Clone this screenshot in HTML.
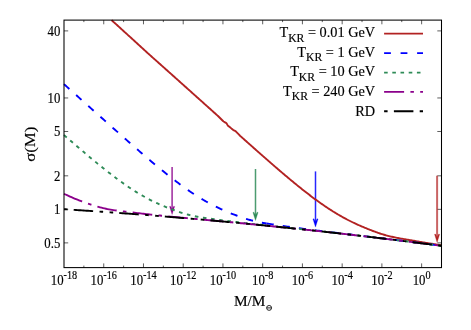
<!DOCTYPE html>
<html><head><meta charset="utf-8"><style>html,body{margin:0;padding:0;background:#fff}body{width:471px;height:330px;overflow:hidden}</style></head><body><svg width="471" height="330" viewBox="0 0 471 330" style="display:block;will-change:transform;transform:translateZ(0)">
<rect width="471" height="330" fill="#fff"/>
<path d="M83.87,267.60 v-2.00 M83.87,20.10 v2.00 M103.74,267.60 v-4.20 M103.74,20.10 v4.20 M123.61,267.60 v-2.00 M123.61,20.10 v2.00 M143.47,267.60 v-4.20 M143.47,20.10 v4.20 M163.34,267.60 v-2.00 M163.34,20.10 v2.00 M183.21,267.60 v-4.20 M183.21,20.10 v4.20 M203.08,267.60 v-2.00 M203.08,20.10 v2.00 M222.95,267.60 v-4.20 M222.95,20.10 v4.20 M242.82,267.60 v-2.00 M242.82,20.10 v2.00 M262.68,267.60 v-4.20 M262.68,20.10 v4.20 M282.55,267.60 v-2.00 M282.55,20.10 v2.00 M302.42,267.60 v-4.20 M302.42,20.10 v4.20 M322.29,267.60 v-2.00 M322.29,20.10 v2.00 M342.16,267.60 v-4.20 M342.16,20.10 v4.20 M362.03,267.60 v-2.00 M362.03,20.10 v2.00 M381.89,267.60 v-4.20 M381.89,20.10 v4.20 M401.76,267.60 v-2.00 M401.76,20.10 v2.00 M421.63,267.60 v-4.20 M421.63,20.10 v4.20 M64.00,30.90 h4.2 M441.50,30.90 h-4.2 M64.00,97.96 h4.2 M441.50,97.96 h-4.2 M64.00,131.49 h4.2 M441.50,131.49 h-4.2 M64.00,175.82 h4.2 M441.50,175.82 h-4.2 M64.00,209.35 h4.2 M441.50,209.35 h-4.2 M64.00,242.89 h4.2 M441.50,242.89 h-4.2" stroke="#1a1a1a" stroke-width="0.7" fill="none"/>
<path d="M437.10,175.70 V238.20" stroke="#b22222" stroke-width="2.00" fill="none" opacity="0.70"/><path d="M437.10,242.40 L434.55,234.30 L435.50,234.10 L437.10,237.20 L438.70,234.10 L439.65,234.30 Z" fill="#b22222" stroke="#b22222" stroke-width="0.3"/>
<path d="M315.50,171.40 V222.90" stroke="#0000ff" stroke-width="1.50" fill="none" opacity="0.85"/><path d="M315.50,227.10 L312.95,219.00 L313.90,218.80 L315.50,221.90 L317.10,218.80 L318.05,219.00 Z" fill="#0000ff" stroke="#0000ff" stroke-width="0.3"/>
<path d="M255.50,169.00 V216.30" stroke="#2e8b57" stroke-width="1.50" fill="none" opacity="0.85"/><path d="M255.50,220.50 L252.95,212.40 L253.90,212.20 L255.50,215.30 L257.10,212.20 L258.05,212.40 Z" fill="#2e8b57" stroke="#2e8b57" stroke-width="0.3"/>
<path d="M172.10,167.00 V210.30" stroke="#8b008b" stroke-width="1.50" fill="none" opacity="0.85"/><path d="M172.10,214.50 L169.55,206.40 L170.50,206.20 L172.10,209.30 L173.70,206.20 L174.65,206.40 Z" fill="#8b008b" stroke="#8b008b" stroke-width="0.3"/>
<g fill="none" stroke-width="1.90" stroke-linejoin="round">
<path d="M111.54,20.10 112.00,20.52 113.00,21.43 114.00,22.34 115.00,23.25 116.00,24.16 117.00,25.07 118.00,25.98 119.00,26.89 120.00,27.80 121.00,28.71 122.00,29.62 123.00,30.53 124.00,31.44 125.00,32.35 126.00,33.26 127.00,34.17 128.00,35.08 129.00,35.99 130.00,36.90 131.00,37.82 132.00,38.73 133.00,39.64 134.00,40.55 135.00,41.47 136.00,42.38 137.00,43.29 138.00,44.20 139.00,45.12 140.00,46.03 141.00,46.94 142.00,47.86 143.00,48.77 144.00,49.69 145.00,50.60 146.00,51.51 147.00,52.43 148.00,53.34 149.00,54.26 150.00,55.17 151.00,56.06 152.00,56.95 153.00,57.84 154.00,58.74 155.00,59.63 156.00,60.52 157.00,61.41 158.00,62.30 159.00,63.19 160.00,64.08 161.00,64.97 162.00,65.87 163.00,66.76 164.00,67.65 165.00,68.54 166.00,69.44 167.00,70.33 168.00,71.22 169.00,72.11 170.00,73.01 171.00,73.90 172.00,74.79 173.00,75.69 174.00,76.58 175.00,77.48 176.00,78.37 177.00,79.26 178.00,80.16 179.00,81.05 180.00,81.95 181.00,82.84 182.00,83.74 183.00,84.63 184.00,85.53 185.00,86.42 186.00,87.32 187.00,88.21 188.00,89.11 189.00,90.00 190.00,90.90 191.00,91.79 192.00,92.69 193.00,93.59 194.00,94.48 195.00,95.38 196.00,96.28 197.00,97.17 198.00,98.07 199.00,98.96 200.00,99.86 201.00,100.76 202.00,101.65 203.00,102.55 204.00,103.45 205.00,104.35 206.00,105.24 207.00,106.14 208.00,107.04 209.00,107.93 210.00,108.83 211.00,109.73 212.00,110.62 213.00,111.52 214.00,112.42 215.00,113.32 216.00,114.21 217.00,115.11 218.00,116.01 219.00,116.99 220.00,117.98 221.00,118.97 222.00,119.96 223.00,120.95 223.50,121.44 224.00,121.74 225.00,122.33 226.00,122.93 226.50,123.23 227.00,124.14 227.70,125.40 228.00,125.65 229.00,126.48 230.00,127.30 231.00,128.13 232.00,128.95 233.00,129.77 233.30,130.02 234.00,130.35 235.00,130.81 235.40,131.00 236.00,131.61 237.00,132.64 238.00,133.66 239.00,134.69 240.00,135.71 241.00,136.61 242.00,137.50 243.00,138.39 244.00,139.28 245.00,140.18 246.00,141.07 247.00,141.96 248.00,142.85 249.00,143.74 250.00,144.63 251.00,145.52 252.00,146.41 253.00,147.29 254.00,148.18 255.00,149.07 256.00,149.95 257.00,150.84 258.00,151.72 259.00,152.61 260.00,153.49 261.00,154.37 262.00,155.25 263.00,156.13 264.00,157.01 265.00,157.89 266.00,158.77 267.00,159.64 268.00,160.52 269.00,161.39 270.00,162.26 271.00,163.13 272.00,164.00 273.00,164.87 274.00,165.74 275.00,166.60 276.00,167.47 277.00,168.33 278.00,169.19 279.00,170.05 280.00,170.91 281.00,171.76 282.00,172.61 283.00,173.46 284.00,174.31 285.00,175.16 286.00,176.01 287.00,176.85 288.00,177.69 289.00,178.53 290.00,179.36 291.00,180.19 292.00,181.02 293.00,181.85 294.00,182.67 295.00,183.49 296.00,184.31 297.00,185.13 298.00,185.94 299.00,186.75 300.00,187.55 301.00,188.35 302.00,189.15 303.00,189.94 304.00,190.73 305.00,191.52 306.00,192.30 307.00,193.07 308.00,193.85 309.00,194.62 310.00,195.38 311.00,196.14 312.00,196.89 313.00,197.64 314.00,198.39 315.00,199.13 316.00,199.86 317.00,200.59 318.00,201.31 319.00,202.03 320.00,202.74 321.00,203.45 322.00,204.15 323.00,204.84 324.00,205.53 325.00,206.21 326.00,206.89 327.00,207.55 328.00,208.22 329.00,208.87 330.00,209.52 331.00,210.16 332.00,210.80 333.00,211.43 334.00,212.05 335.00,212.66 336.00,213.27 337.00,213.87 338.00,214.46 339.00,215.05 340.00,215.63 341.00,216.20 342.00,216.76 343.00,217.32 344.00,217.87 345.00,218.41 346.00,218.94 347.00,219.47 348.00,219.99 349.00,220.50 350.00,221.00 351.00,221.50 352.00,221.99 353.00,222.48 354.00,222.95 355.00,223.43 356.00,223.89 357.00,224.35 358.00,224.80 359.00,225.25 360.00,225.69 361.00,226.13 362.00,226.56 363.00,226.98 364.00,227.40 365.00,227.82 366.00,228.23 367.00,228.64 368.00,229.04 369.00,229.44 370.00,229.84 371.00,230.22 372.00,230.61 373.00,230.99 374.00,231.36 375.00,231.73 376.00,232.09 377.00,232.45 378.00,232.80 379.00,233.14 380.00,233.48 381.00,233.80 382.00,234.12 383.00,234.43 384.00,234.73 385.00,235.02 386.00,235.30 387.00,235.58 388.00,235.84 389.00,236.09 390.00,236.34 391.00,236.58 392.00,236.80 393.00,237.02 394.00,237.24 395.00,237.44 396.00,237.64 397.00,237.84 398.00,238.03 399.00,238.22 400.00,238.40 401.00,238.58 402.00,238.75 403.00,238.93 404.00,239.10 405.00,239.27 406.00,239.45 407.00,239.62 408.00,239.79 409.00,239.96 410.00,240.13 411.00,240.30 412.00,240.47 413.00,240.64 414.00,240.81 415.00,240.98 416.00,241.15 417.00,241.32 418.00,241.49 419.00,241.66 420.00,241.83 421.00,242.00 422.00,242.16 423.00,242.33 424.00,242.50 425.00,242.66 426.00,242.83 427.00,242.99 428.00,243.16 429.00,243.32 430.00,243.48 431.00,243.64 432.00,243.80 433.00,243.96 434.00,244.12 435.00,244.27 436.00,244.43 437.00,244.59 438.00,244.74 439.00,244.90 440.00,245.05 441.00,245.20 441.50,245.28" stroke="#b22222"/>
<path d="M64.00,84.15 65.50,85.49 67.00,86.84 68.50,88.18 70.00,89.52 71.50,90.87 73.00,92.21 74.50,93.56 76.00,94.90 77.50,96.24 79.00,97.59 80.50,98.93 82.00,100.28 83.50,101.62 85.00,102.96 86.50,104.31 88.00,105.65 89.50,106.99 91.00,108.34 92.50,109.68 94.00,111.02 95.50,112.37 97.00,113.71 98.50,115.05 100.00,116.39 101.50,117.73 103.00,119.07 104.50,120.41 106.00,121.75 107.50,123.09 109.00,124.43 110.50,125.76 112.00,127.10 113.50,128.43 115.00,129.77 116.50,131.10 118.00,132.43 119.50,133.76 121.00,135.09 122.50,136.41 124.00,137.74 125.50,139.06 127.00,140.38 128.50,141.70 130.00,143.02 131.50,144.34 133.00,145.65 134.50,146.96 136.00,148.27 137.50,149.57 139.00,150.87 140.50,152.17 142.00,153.46 143.50,154.75 145.00,156.04 146.50,157.32 148.00,158.60 149.50,159.88 151.00,161.15 152.50,162.41 154.00,163.67 155.50,164.92 157.00,166.17 158.50,167.41 160.00,168.64 161.50,169.87 163.00,171.09 164.50,172.30 166.00,173.51 167.50,174.71 169.00,175.89 170.50,177.07 172.00,178.24 173.50,179.40 175.00,180.55 176.50,181.69 178.00,182.82 179.50,183.94 181.00,185.05 182.50,186.14 184.00,187.22 185.50,188.29 187.00,189.35 188.50,190.39 190.00,191.42 191.50,192.43 193.00,193.43 194.50,194.42 196.00,195.39 197.50,196.34 199.00,197.28 200.50,198.20 202.00,199.10 203.50,199.99 205.00,200.86 206.50,201.71 208.00,202.55 209.50,203.37 211.00,204.17 212.50,204.96 214.00,205.73 215.50,206.48 217.00,207.21 218.50,207.93 220.00,208.64 221.50,209.32 223.00,210.00 224.50,210.66 226.00,211.30 227.50,211.93 229.00,212.55 230.50,213.16 232.00,213.76 233.50,214.35 235.00,214.93 236.50,215.49 238.00,216.05 239.50,216.59 241.00,217.12 242.50,217.64 244.00,218.15 245.50,218.63 247.00,219.10 248.50,219.56 250.00,219.99 251.50,220.40 253.00,220.79 254.50,221.15 256.00,221.50 257.50,221.83 259.00,222.13 260.50,222.43 262.00,222.70 263.50,222.96 265.00,223.21 266.50,223.46 266.60,223.47" stroke="#0000ff" stroke-dasharray="7.2 9.1"/>
<path d="M266.60,223.47 268.00,223.69 269.50,223.92 271.00,224.15 272.50,224.37 274.00,224.60 275.50,224.82 277.00,225.04 278.50,225.26 280.00,225.48 281.50,225.70 283.00,225.92 284.50,226.15 286.00,226.36 287.50,226.58 289.00,226.80 290.50,227.01 292.00,227.23 293.50,227.44 295.00,227.65 296.50,227.86 298.00,228.06 299.50,228.27 301.00,228.47 302.50,228.67 304.00,228.87 305.50,229.06 307.00,229.26 308.50,229.45 310.00,229.64 311.50,229.84 313.00,230.02 314.50,230.21 316.00,230.40 317.50,230.59 319.00,230.77 320.50,230.96 322.00,231.14 323.50,231.33 325.00,231.51 326.50,231.69 328.00,231.87 329.50,232.05 331.00,232.23 332.50,232.41 334.00,232.59 335.50,232.77 337.00,232.95 338.50,233.13 340.00,233.31 341.50,233.49 343.00,233.67 344.50,233.85 346.00,234.03 347.50,234.21 349.00,234.38 350.50,234.56 352.00,234.74 353.50,234.92 355.00,235.10 356.50,235.28 358.00,235.46 359.50,235.63 361.00,235.81 362.50,235.99 364.00,236.17 365.50,236.35 367.00,236.53 368.50,236.71 370.00,236.89 371.50,237.07 373.00,237.25 374.50,237.43 376.00,237.61 377.50,237.80 379.00,237.98 380.50,238.16 382.00,238.34 383.50,238.52 385.00,238.71 386.50,238.89 388.00,239.07 389.50,239.26 391.00,239.44 392.50,239.63 394.00,239.81 395.50,240.00 397.00,240.18 398.50,240.37 400.00,240.55 401.50,240.74 403.00,240.93 404.50,241.11 406.00,241.30 407.50,241.49 409.00,241.68 410.50,241.87 412.00,242.06 413.50,242.24 415.00,242.43 416.50,242.62 418.00,242.81 419.50,243.01 421.00,243.20 422.50,243.39 424.00,243.58 425.50,243.77 427.00,243.97 428.50,244.16 430.00,244.35 431.50,244.55 433.00,244.74 434.50,244.93 436.00,245.13 437.50,245.32 439.00,245.52 440.50,245.72 441.50,245.85" stroke="#0000ff" stroke-dasharray="7.2 9.1"/>
<path d="M64.00,135.06 65.50,136.37 67.00,137.67 68.50,138.97 70.00,140.27 71.50,141.57 73.00,142.87 74.50,144.16 76.00,145.45 77.50,146.74 79.00,148.02 80.50,149.30 82.00,150.58 83.50,151.85 85.00,153.13 86.50,154.39 88.00,155.65 89.50,156.91 91.00,158.16 92.50,159.41 94.00,160.65 95.50,161.89 97.00,163.12 98.50,164.35 100.00,165.56 101.50,166.77 103.00,167.98 104.50,169.17 106.00,170.36 107.50,171.54 109.00,172.71 110.50,173.87 112.00,175.03 113.50,176.17 115.00,177.30 116.50,178.42 118.00,179.53 119.50,180.63 121.00,181.72 122.50,182.79 124.00,183.85 125.50,184.90 127.00,185.93 128.50,186.95 130.00,187.96 131.50,188.95 133.00,189.92 134.50,190.88 136.00,191.82 137.50,192.75 139.00,193.66 140.50,194.55 142.00,195.43 143.50,196.29 145.00,197.13 146.50,197.95 148.00,198.76 149.50,199.54 151.00,200.31 152.50,201.07 154.00,201.80 155.50,202.52 157.00,203.22 158.50,203.90 160.00,204.57 161.50,205.22 163.00,205.86 164.50,206.49 166.00,207.10 167.50,207.69 169.00,208.28 170.50,208.85 172.00,209.42 173.50,209.97 175.00,210.51 176.50,211.04 178.00,211.56 179.50,212.07 181.00,212.56 182.50,213.04 184.00,213.50 185.50,213.94 187.00,214.37 188.50,214.77 190.00,215.16 191.50,215.52 193.00,215.87 194.50,216.19 196.00,216.49 197.50,216.77 199.00,217.04 200.50,217.29 202.00,217.52 203.50,217.75 205.00,217.96 206.50,218.17 208.00,218.38 209.50,218.58 211.00,218.78 212.50,218.97 214.00,219.17 215.50,219.37 217.00,219.56 218.50,219.76 220.00,219.96 221.50,220.15 223.00,220.35 224.50,220.54 226.00,220.74 227.50,220.93 229.00,221.12 230.50,221.31 232.00,221.50 233.50,221.69 235.00,221.88 236.50,222.06 238.00,222.24 239.50,222.42 241.00,222.60 242.50,222.78 244.00,222.95 245.50,223.13 247.00,223.30 248.50,223.47 250.00,223.64 251.50,223.81 253.00,223.98 254.50,224.15 256.00,224.31 257.50,224.48 259.00,224.64 260.50,224.81 262.00,224.97 263.50,225.14 265.00,225.30 266.50,225.46 266.60,225.47" stroke="#2e8b57" stroke-dasharray="3.6 4.6"/>
<path d="M266.60,225.47 268.00,225.62 269.50,225.79 271.00,225.95 272.50,226.11 274.00,226.27 275.50,226.43 277.00,226.59 278.50,226.75 280.00,226.91 281.50,227.07 283.00,227.24 284.50,227.40 286.00,227.56 287.50,227.72 289.00,227.88 290.50,228.04 292.00,228.20 293.50,228.36 295.00,228.52 296.50,228.68 298.00,228.84 299.50,229.01 301.00,229.17 302.50,229.33 304.00,229.49 305.50,229.65 307.00,229.82 308.50,229.98 310.00,230.14 311.50,230.31 313.00,230.47 314.50,230.63 316.00,230.80 317.50,230.96 319.00,231.13 320.50,231.29 322.00,231.46 323.50,231.63 325.00,231.79 326.50,231.96 328.00,232.12 329.50,232.29 331.00,232.46 332.50,232.63 334.00,232.80 335.50,232.96 337.00,233.13 338.50,233.30 340.00,233.47 341.50,233.64 343.00,233.81 344.50,233.98 346.00,234.15 347.50,234.33 349.00,234.50 350.50,234.67 352.00,234.84 353.50,235.02 355.00,235.19 356.50,235.36 358.00,235.54 359.50,235.71 361.00,235.89 362.50,236.06 364.00,236.24 365.50,236.41 367.00,236.59 368.50,236.77 370.00,236.94 371.50,237.12 373.00,237.30 374.50,237.48 376.00,237.66 377.50,237.83 379.00,238.01 380.50,238.19 382.00,238.37 383.50,238.56 385.00,238.74 386.50,238.92 388.00,239.10 389.50,239.28 391.00,239.47 392.50,239.65 394.00,239.83 395.50,240.02 397.00,240.20 398.50,240.38 400.00,240.57 401.50,240.76 403.00,240.94 404.50,241.13 406.00,241.31 407.50,241.50 409.00,241.69 410.50,241.88 412.00,242.07 413.50,242.25 415.00,242.44 416.50,242.63 418.00,242.82 419.50,243.01 421.00,243.20 422.50,243.40 424.00,243.59 425.50,243.78 427.00,243.97 428.50,244.16 430.00,244.36 431.50,244.55 433.00,244.74 434.50,244.94 436.00,245.13 437.50,245.33 439.00,245.52 440.50,245.72 441.50,245.85" stroke="#2e8b57" stroke-dasharray="3.6 4.6"/>
<path d="M64.00,193.79 65.50,194.52 67.00,195.22 68.50,195.91 70.00,196.58 71.50,197.24 73.00,197.88 74.50,198.51 76.00,199.12 77.50,199.72 79.00,200.31 80.50,200.88 82.00,201.44 83.50,202.00 85.00,202.54 86.50,203.07 88.00,203.59 89.50,204.10 91.00,204.60 92.50,205.09 94.00,205.57 95.50,206.03 97.00,206.47 98.50,206.90 100.00,207.31 101.50,207.70 103.00,208.07 104.50,208.42 106.00,208.75 107.50,209.06 109.00,209.34 110.50,209.61 112.00,209.86 113.50,210.10 115.00,210.32 116.50,210.53 118.00,210.73 119.50,210.92 121.00,211.11 122.50,211.29 124.00,211.47 125.50,211.65 127.00,211.83 128.50,212.01 130.00,212.19 131.50,212.37 133.00,212.55 134.50,212.73 136.00,212.90 137.50,213.08 139.00,213.26 140.50,213.43 142.00,213.61 143.50,213.78 145.00,213.95 146.50,214.12 148.00,214.28 149.50,214.45 151.00,214.61 152.50,214.77 154.00,214.93 155.50,215.09 157.00,215.24 158.50,215.40 160.00,215.55 161.50,215.70 163.00,215.85 164.50,216.00 166.00,216.15 167.50,216.30 169.00,216.44 170.50,216.59 172.00,216.73 173.50,216.88 175.00,217.02 176.50,217.16 178.00,217.30 179.50,217.44 181.00,217.58 182.50,217.72 184.00,217.86 185.50,218.00 187.00,218.14 188.50,218.28 190.00,218.42 191.50,218.56 193.00,218.70 194.50,218.84 196.00,218.98 197.50,219.11 199.00,219.25 200.50,219.39 202.00,219.53 203.50,219.67 205.00,219.81 206.50,219.94 208.00,220.08 209.50,220.22 211.00,220.36 212.50,220.50 214.00,220.64 215.50,220.78 217.00,220.92 218.50,221.06 220.00,221.20 221.50,221.34 223.00,221.48 224.50,221.62 226.00,221.76 227.50,221.90 229.00,222.04 230.50,222.18 232.00,222.32 233.50,222.47 235.00,222.61 236.50,222.75 238.00,222.89 239.50,223.04 241.00,223.18 242.50,223.32 244.00,223.47 245.50,223.61 247.00,223.76 248.50,223.90 250.00,224.05 251.50,224.20 253.00,224.34 254.50,224.49 256.00,224.64 257.50,224.78 259.00,224.93 260.50,225.08 262.00,225.23 263.50,225.38 265.00,225.53 266.50,225.67 266.60,225.68" stroke="#8b008b" stroke-dasharray="19.7 6.25 3.6 6.25"/>
<path d="M266.60,225.68 268.00,225.82 269.50,225.98 271.00,226.13 272.50,226.28 274.00,226.43 275.50,226.58 277.00,226.73 278.50,226.89 280.00,227.04 281.50,227.19 283.00,227.35 284.50,227.50 286.00,227.65 287.50,227.81 289.00,227.96 290.50,228.12 292.00,228.28 293.50,228.43 295.00,228.59 296.50,228.75 298.00,228.91 299.50,229.06 301.00,229.22 302.50,229.38 304.00,229.54 305.50,229.70 307.00,229.86 308.50,230.02 310.00,230.18 311.50,230.34 313.00,230.50 314.50,230.67 316.00,230.83 317.50,230.99 319.00,231.16 320.50,231.32 322.00,231.48 323.50,231.65 325.00,231.81 326.50,231.98 328.00,232.14 329.50,232.31 331.00,232.48 332.50,232.64 334.00,232.81 335.50,232.98 337.00,233.15 338.50,233.31 340.00,233.48 341.50,233.65 343.00,233.82 344.50,233.99 346.00,234.16 347.50,234.33 349.00,234.51 350.50,234.68 352.00,234.85 353.50,235.02 355.00,235.19 356.50,235.37 358.00,235.54 359.50,235.72 361.00,235.89 362.50,236.07 364.00,236.24 365.50,236.42 367.00,236.59 368.50,236.77 370.00,236.95 371.50,237.12 373.00,237.30 374.50,237.48 376.00,237.66 377.50,237.84 379.00,238.02 380.50,238.20 382.00,238.38 383.50,238.56 385.00,238.74 386.50,238.92 388.00,239.10 389.50,239.28 391.00,239.47 392.50,239.65 394.00,239.83 395.50,240.02 397.00,240.20 398.50,240.39 400.00,240.57 401.50,240.76 403.00,240.94 404.50,241.13 406.00,241.32 407.50,241.50 409.00,241.69 410.50,241.88 412.00,242.07 413.50,242.25 415.00,242.44 416.50,242.63 418.00,242.82 419.50,243.01 421.00,243.20 422.50,243.40 424.00,243.59 425.50,243.78 427.00,243.97 428.50,244.16 430.00,244.36 431.50,244.55 433.00,244.74 434.50,244.94 436.00,245.13 437.50,245.33 439.00,245.52 440.50,245.72 441.50,245.85" stroke="#8b008b" stroke-dasharray="19.7 6.25 3.6 6.25"/>
<path d="M64.00,209.22 65.50,209.31 67.00,209.41 68.50,209.51 70.00,209.60 71.50,209.70 73.00,209.80 74.50,209.89 76.00,209.99 77.50,210.09 79.00,210.19 80.50,210.29 82.00,210.38 83.50,210.48 85.00,210.58 86.50,210.69 88.00,210.79 89.50,210.89 91.00,210.99 92.50,211.09 94.00,211.19 95.50,211.30 97.00,211.40 98.50,211.50 100.00,211.61 101.50,211.71 103.00,211.82 104.50,211.92 106.00,212.03 107.50,212.13 109.00,212.24 110.50,212.35 112.00,212.46 113.50,212.56 115.00,212.67 116.50,212.78 118.00,212.89 119.50,213.00 121.00,213.11 122.50,213.22 124.00,213.33 125.50,213.44 127.00,213.55 128.50,213.66 130.00,213.78 131.50,213.89 133.00,214.00 134.50,214.12 136.00,214.23 137.50,214.34 139.00,214.46 140.50,214.57 142.00,214.69 143.50,214.80 145.00,214.92 146.50,215.04 148.00,215.15 149.50,215.27 151.00,215.39 152.50,215.51 154.00,215.63 155.50,215.75 157.00,215.87 158.50,215.99 160.00,216.11 161.50,216.23 163.00,216.35 164.50,216.47 166.00,216.59 167.50,216.71 169.00,216.84 170.50,216.96 172.00,217.08 173.50,217.21 175.00,217.33 176.50,217.46 178.00,217.58 179.50,217.71 181.00,217.83 182.50,217.96 184.00,218.09 185.50,218.21 187.00,218.34 188.50,218.47 190.00,218.60 191.50,218.73 193.00,218.86 194.50,218.99 196.00,219.12 197.50,219.25 199.00,219.38 200.50,219.51 202.00,219.64 203.50,219.77 205.00,219.90 206.50,220.04 208.00,220.17 209.50,220.30 211.00,220.44 212.50,220.57 214.00,220.71 215.50,220.84 217.00,220.98 218.50,221.11 220.00,221.25 221.50,221.39 223.00,221.53 224.50,221.66 226.00,221.80 227.50,221.94 229.00,222.08 230.50,222.22 232.00,222.36 233.50,222.50 235.00,222.64 236.50,222.78 238.00,222.92 239.50,223.06 241.00,223.21 242.50,223.35 244.00,223.49 245.50,223.63 247.00,223.78 248.50,223.92 250.00,224.07 251.50,224.21 253.00,224.36 254.50,224.50 256.00,224.65 257.50,224.80 259.00,224.94 260.50,225.09 262.00,225.24 263.50,225.39 265.00,225.54 266.50,225.68 266.60,225.69" stroke="#000" stroke-dasharray="3.6 6.1 19.5 6.4 3.6 6.5"/>
<path d="M266.60,225.69 268.00,225.83 269.50,225.98 271.00,226.13 272.50,226.28 274.00,226.44 275.50,226.59 277.00,226.74 278.50,226.89 280.00,227.04 281.50,227.20 283.00,227.35 284.50,227.50 286.00,227.66 287.50,227.81 289.00,227.97 290.50,228.12 292.00,228.28 293.50,228.44 295.00,228.59 296.50,228.75 298.00,228.91 299.50,229.07 301.00,229.22 302.50,229.38 304.00,229.54 305.50,229.70 307.00,229.86 308.50,230.02 310.00,230.18 311.50,230.34 313.00,230.51 314.50,230.67 316.00,230.83 317.50,230.99 319.00,231.16 320.50,231.32 322.00,231.48 323.50,231.65 325.00,231.81 326.50,231.98 328.00,232.14 329.50,232.31 331.00,232.48 332.50,232.64 334.00,232.81 335.50,232.98 337.00,233.15 338.50,233.31 340.00,233.48 341.50,233.65 343.00,233.82 344.50,233.99 346.00,234.16 347.50,234.33 349.00,234.51 350.50,234.68 352.00,234.85 353.50,235.02 355.00,235.19 356.50,235.37 358.00,235.54 359.50,235.72 361.00,235.89 362.50,236.07 364.00,236.24 365.50,236.42 367.00,236.59 368.50,236.77 370.00,236.95 371.50,237.12 373.00,237.30 374.50,237.48 376.00,237.66 377.50,237.84 379.00,238.02 380.50,238.20 382.00,238.38 383.50,238.56 385.00,238.74 386.50,238.92 388.00,239.10 389.50,239.28 391.00,239.47 392.50,239.65 394.00,239.83 395.50,240.02 397.00,240.20 398.50,240.39 400.00,240.57 401.50,240.76 403.00,240.94 404.50,241.13 406.00,241.32 407.50,241.50 409.00,241.69 410.50,241.88 412.00,242.07 413.50,242.25 415.00,242.44 416.50,242.63 418.00,242.82 419.50,243.01 421.00,243.20 422.50,243.40 424.00,243.59 425.50,243.78 427.00,243.97 428.50,244.16 430.00,244.36 431.50,244.55 433.00,244.74 434.50,244.94 436.00,245.13 437.50,245.33 439.00,245.52 440.50,245.72 441.50,245.85" stroke="#000" stroke-dasharray="3.6 6.1 19.5 6.4 3.6 6.5"/>
<path d="M384.1,33.6 H423.0" stroke="#b22222"/>
<path d="M384.1,53.1 H423.0" stroke="#0000ff" stroke-dasharray="6.8 9.7"/>
<path d="M384.1,72.6 H423.0" stroke="#2e8b57" stroke-dasharray="3.6 4.6"/>
<path d="M384.1,91.9 H423.0" stroke="#8b008b" stroke-dasharray="20 6.3 3.5 6.3"/>
<path d="M384.1,111.3 H423.0" stroke="#000" stroke-dasharray="3.5 6.3 19.5 6.3 3.5 6.3"/>
</g>
<rect x="64.00" y="20.10" width="377.50" height="247.50" fill="none" stroke="#000" stroke-width="1.05"/>
<g font-family="Liberation Serif, serif" fill="#000" stroke="#000" stroke-width="0.15">
<text transform="translate(60.3,35.70) scale(1,1.120)" font-size="12.80" text-anchor="end">40</text>
<text transform="translate(60.3,102.76) scale(1,1.120)" font-size="12.80" text-anchor="end">10</text>
<text transform="translate(60.3,136.29) scale(1,1.120)" font-size="12.80" text-anchor="end">5</text>
<text transform="translate(60.3,180.62) scale(1,1.120)" font-size="12.80" text-anchor="end">2</text>
<text transform="translate(60.3,214.15) scale(1,1.120)" font-size="12.80" text-anchor="end">1</text>
<text transform="translate(60.3,247.69) scale(1,1.120)" font-size="12.80" text-anchor="end">0.5</text>
<text transform="translate(64.00,284.9) scale(1,1.120)" font-size="12.80" text-anchor="middle">10<tspan font-size="10.24" dy="-4.91">-18</tspan></text>
<text transform="translate(103.74,284.9) scale(1,1.120)" font-size="12.80" text-anchor="middle">10<tspan font-size="10.24" dy="-4.91">-16</tspan></text>
<text transform="translate(143.47,284.9) scale(1,1.120)" font-size="12.80" text-anchor="middle">10<tspan font-size="10.24" dy="-4.91">-14</tspan></text>
<text transform="translate(183.21,284.9) scale(1,1.120)" font-size="12.80" text-anchor="middle">10<tspan font-size="10.24" dy="-4.91">-12</tspan></text>
<text transform="translate(222.95,284.9) scale(1,1.120)" font-size="12.80" text-anchor="middle">10<tspan font-size="10.24" dy="-4.91">-10</tspan></text>
<text transform="translate(262.68,284.9) scale(1,1.120)" font-size="12.80" text-anchor="middle">10<tspan font-size="10.24" dy="-4.91">-8</tspan></text>
<text transform="translate(302.42,284.9) scale(1,1.120)" font-size="12.80" text-anchor="middle">10<tspan font-size="10.24" dy="-4.91">-6</tspan></text>
<text transform="translate(342.16,284.9) scale(1,1.120)" font-size="12.80" text-anchor="middle">10<tspan font-size="10.24" dy="-4.91">-4</tspan></text>
<text transform="translate(381.89,284.9) scale(1,1.120)" font-size="12.80" text-anchor="middle">10<tspan font-size="10.24" dy="-4.91">-2</tspan></text>
<text transform="translate(421.63,284.9) scale(1,1.120)" font-size="12.80" text-anchor="middle">10<tspan font-size="10.24" dy="-4.91">0</tspan></text>
<text x="375.2" y="37.3" font-size="14.3" text-anchor="end">T<tspan font-size="11.7" dy="4.6">KR</tspan><tspan dy="-4.6"> = 0.01 GeV</tspan></text>
<text x="375.2" y="56.8" font-size="14.3" text-anchor="end">T<tspan font-size="11.7" dy="4.6">KR</tspan><tspan dy="-4.6"> = 1 GeV</tspan></text>
<text x="375.2" y="76.3" font-size="14.3" text-anchor="end">T<tspan font-size="11.7" dy="4.6">KR</tspan><tspan dy="-4.6"> = 10 GeV</tspan></text>
<text x="375.2" y="95.8" font-size="14.3" text-anchor="end">T<tspan font-size="11.7" dy="4.6">KR</tspan><tspan dy="-4.6"> = 240 GeV</tspan></text>
<text x="375.2" y="115.9" font-size="14.3" text-anchor="end">RD</text>
<text x="234" y="305.8" font-size="15.3">M/M</text>
<g stroke="#111" stroke-width="0.9" fill="none"><circle cx="269.1" cy="307.9" r="2.45"/><path d="M266.7,307.9 h4.8"/></g>
<text transform="translate(34.7,144.2) rotate(-90) scale(1.1,1)" font-size="15.3" text-anchor="middle">σ(M)</text>
</g>
</svg></body></html>
